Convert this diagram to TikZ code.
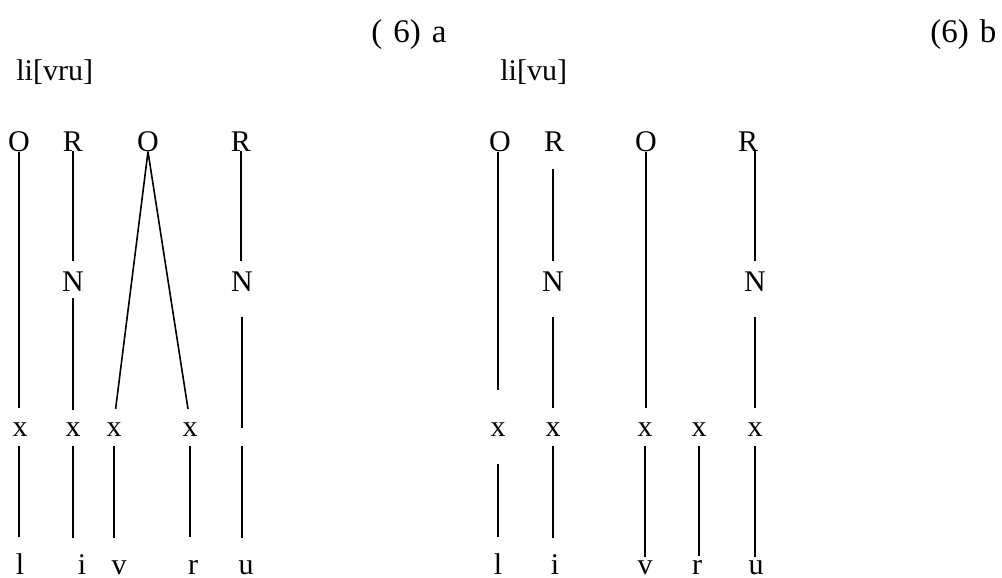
\documentclass[tikz,border=0pt]{standalone}
\usepackage{fontspec}
\setmainfont{Liberation Serif}
\usepackage{tikz}

\begin{document}
\begin{tikzpicture}[x=0.5pt,y=-0.5pt]
\tikzstyle{every node}+=[inner sep=0pt,anchor=base,font=\fontsize{15}{17}\selectfont]
\tikzstyle{tier}=[black,line width=0.8pt]
\tikzstyle{heading}=[anchor=base west,font=\fontsize{16.5}{19}\selectfont]
\useasboundingbox (0,0) rectangle (1002,578);
\node [heading] (tita) at (371,42) {(\,\,6)\,\,a};
\node [heading] (titb) at (930,42) {(6)\,\,b};
\node [anchor=base west] (forma) at (16,80) {li[vru]};
\node [anchor=base west] (formb) at (500,80) {li[vu]};
\node (O1) at (19,151) {O};
\node (R1) at (73,151) {R};
\node (O2) at (148,151) {O};
\node (R2) at (241,151) {R};
\node (N1) at (73,291) {N};
\node (N2) at (242,291) {N};
\node (xa1) at (20,436) {x};
\node (xa2) at (73,436) {x};
\node (xa3) at (114,436) {x};
\node (xa4) at (190,436) {x};
\node (l1) at (20,574) {l};
\node (i1) at (82,574) {i};
\node (v1) at (119,574) {v};
\node (r1) at (193,574) {r};
\node (u1) at (246,574) {u};
\draw [tier,shorten >=7pt] (O1.south) -- (O1.south |- xa1.north);
\draw [tier,shorten <=5pt,shorten >=7.75pt] (xa1.south -| O1) -- (O1 |- l1.north);
\draw [tier,shorten >=5pt] (R1.south) -- (N1.north);
\draw [tier,shorten <=3.5pt,shorten >=6pt] (N1.south) -- (xa2.north);
\draw [tier,shorten <=5pt,shorten >=7.75pt] (xa2.south) -- (xa2.south |- i1.north);
\draw [tier,shorten >=6.5pt] (O2.south) -- (xa3.north);
\draw [tier,shorten >=6.5pt] (O2.south) -- (xa4.north);
\draw [tier,shorten <=5pt,shorten >=11pt] (xa3.south) -- (xa3.south |- v1.north);
\draw [tier,shorten <=5pt,shorten >=11pt] (xa4.south) -- (xa4.south |- r1.north);
\draw [tier,shorten >=5pt] (R2.south) -- (R2.south |- N2.north);
\draw [tier,shorten <=13pt,shorten >=4pt] (N2.south) -- (N2.south |- xa4.south);
\draw [tier,shorten <=5pt,shorten >=11pt] (N2.south |- xa4.south) -- (N2.south |- u1.north);
\node (O3) at (500,151) {O};
\node (R3) at (554,151) {R};
\node (O4) at (646,151) {O};
\node (R4) at (748,151) {R};
\node (N3) at (553,291) {N};
\node (N4) at (755,291) {N};
\node (xb1) at (498,436) {x};
\node (xb2) at (553,436) {x};
\node (xb3) at (645,436) {x};
\node (xb4) at (699,436) {x};
\node (xb5) at (755,436) {x};
\node (l2) at (498,574) {l};
\node (i2) at (555,574) {i};
\node (v2) at (645,574) {v};
\node (r2) at (697,574) {r};
\node (u2) at (756,574) {u};
\draw [tier,shorten >=16pt] (xb1.north |- O3.south) -- (xb1.north);
\draw [tier,shorten <=14pt,shorten >=7.75pt] (xb1.south) -- (xb1.south |- l2.north);
\draw [tier,shorten <=9pt,shorten >=5pt] (N3.north |- R3.south) -- (N3.north);
\draw [tier,shorten <=13pt,shorten >=7pt] (N3.south) -- (xb2.north);
\draw [tier,shorten <=5pt,shorten >=7.75pt] (xb2.south) -- (xb2.south |- i2.north);
\draw [tier,shorten >=7pt] (O4.south) -- (O4.south |- xb3.north);
\draw [tier,shorten <=5pt,shorten >=1.5pt] (xb3.south) -- (xb3.south |- v2.north);
\draw [tier,shorten <=5pt,shorten >=1.5pt] (xb4.south) -- (xb4.south |- r2.north);
\draw [tier,shorten >=5pt] (N4.north |- R4.south) -- (N4.north);
\draw [tier,shorten <=13pt,shorten >=7pt] (N4.south) -- (xb5.north);
\draw [tier,shorten <=5pt,shorten >=1.5pt] (xb5.south) -- (xb5.south |- u2.north);
\end{tikzpicture}
\end{document}
